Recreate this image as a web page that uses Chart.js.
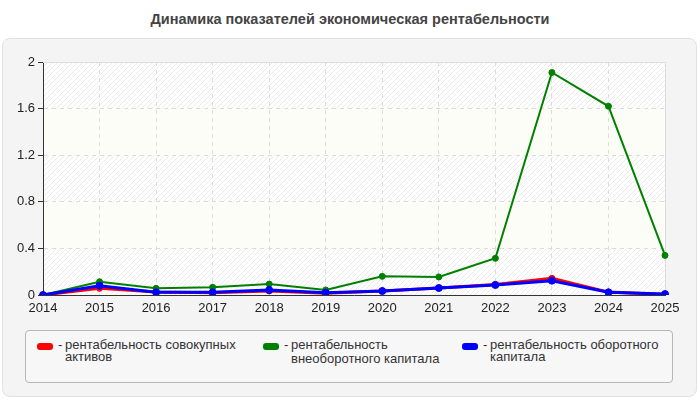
<!DOCTYPE html>
<html>
<head>
<meta charset="utf-8">
<script src="https://cdn.jsdelivr.net/npm/chart.js@4/dist/chart.umd.min.js"></script>
<style>
  html, body { margin: 0; padding: 0; background: #fff; width: 700px; height: 400px; overflow: hidden; font-family: "Liberation Sans", Arial, sans-serif; }
  #title { position: absolute; left: 0; top: 11px; width: 700px; text-align: center; font-weight: bold; font-size: 14.5px; color: #444; }
  #panel { position: absolute; left: 2px; top: 38px; width: 693px; height: 357px; background: #f4f4f4; border: 1px solid #e2e2e2; border-radius: 8px; }
  #wrap { position: absolute; left: 0; top: 40px; width: 700px; height: 280px; }
  #legend { position: absolute; left: 25px; top: 330px; width: 646px; height: 51px; border: 1px solid #b8b8b8; border-radius: 4px; background: #f7f7f7; }
  .sw { position: absolute; width: 16px; height: 7px; border-radius: 3px; }
  .lt { position: absolute; font-size: 13px; line-height: 12px; color: #333; white-space: nowrap; }
</style>
</head>
<body>
<div id="title">Динамика показателей экономическая рентабельности</div>
<div id="panel"></div>
<div id="wrap"><canvas id="c" width="700" height="280"></canvas></div>
<div id="legend"></div>
<script>
const years = ["2014","2015","2016","2017","2018","2019","2020","2021","2022","2023","2024","2025"];
const totalAssets = [0, 0.057, 0.025, 0.02, 0.035, 0.015, 0.035, 0.06, 0.09, 0.143, 0.025, 0.005];
const nonCurrent = [0, 0.114, 0.057, 0.066, 0.094, 0.043, 0.16, 0.155, 0.315, 1.91, 1.62, 0.34];
const current = [0, 0.08, 0.023, 0.023, 0.043, 0.02, 0.034, 0.06, 0.086, 0.123, 0.023, 0.008];
const yTicks = [0, 0.4, 0.8, 1.2, 1.6, 2];
const seriesNames = [
  ["рентабельность совокупных", "активов"],
  ["рентабельность", "внеоборотного капитала"],
  ["рентабельность оборотного", "капитала"]
];
const seriesColors = ["#ff0000", "#008000", "#0000ff"];

// legend (HTML text)
const legendPos = [
  {sx: 11, tx: 39, y2: 339 + 12},
  {sx: 237, tx: 265, y2: 339 + 14},
  {sx: 436, tx: 464, y2: 339 + 12}
];
const lg = document.getElementById('legend');
seriesNames.forEach((lines, i) => {
  const p = legendPos[i];
  const sw = document.createElement('div');
  sw.className = 'sw'; sw.style.background = seriesColors[i];
  sw.style.left = p.sx + 'px'; sw.style.top = (343 - 331) + 'px';
  lg.appendChild(sw);
  const d = document.createElement('div');
  d.className = 'lt'; d.textContent = '-';
  d.style.left = (p.tx - 7) + 'px'; d.style.top = (339 - 331) + 'px';
  lg.appendChild(d);
  const l1 = document.createElement('div');
  l1.className = 'lt'; l1.textContent = lines[0];
  l1.style.left = p.tx + 'px'; l1.style.top = (339 - 331) + 'px';
  lg.appendChild(l1);
  const l2 = document.createElement('div');
  l2.className = 'lt'; l2.textContent = lines[1];
  l2.style.left = p.tx + 'px'; l2.style.top = (p.y2 - 331) + 'px';
  lg.appendChild(l2);
});

// hatch pattern
function makeHatch() {
  const s = 5;
  const pc = document.createElement('canvas');
  pc.width = s; pc.height = s;
  const g = pc.getContext('2d');
  g.fillStyle = '#ffffff'; g.fillRect(0, 0, s, s);
  g.strokeStyle = '#ececec'; g.lineWidth = 1;
  g.beginPath();
  g.moveTo(-1, s + 1); g.lineTo(s + 1, -1);
  g.moveTo(-1, 1); g.lineTo(1, -1);
  g.moveTo(s - 1, s + 1); g.lineTo(s + 1, s - 1);
  g.stroke();
  return pc;
}

const bgPlugin = {
  id: 'bands',
  beforeDraw(chart) {
    const {ctx, chartArea: a, scales: {y}} = chart;
    const pat = ctx.createPattern(makeHatch(), 'repeat');
    ctx.save();
    for (let i = 0; i < yTicks.length - 1; i++) {
      const top = y.getPixelForValue(yTicks[i + 1]);
      const bot = y.getPixelForValue(yTicks[i]);
      ctx.fillStyle = (i % 2 === 0) ? pat : '#fcfdf6';
      ctx.fillRect(a.left, top, a.right - a.left, bot - top);
    }
    ctx.restore();
  },
  beforeDatasetsDraw(chart) {
    const {ctx, chartArea: a} = chart;
    ctx.save();
    ctx.strokeStyle = '#dcdcdc'; ctx.lineWidth = 1;
    ctx.beginPath();
    ctx.moveTo(a.left, Math.round(a.top) + 0.5);
    ctx.lineTo(Math.round(a.right) + 0.5, Math.round(a.top) + 0.5);
    ctx.lineTo(Math.round(a.right) + 0.5, a.bottom);
    ctx.stroke();
    ctx.restore();
  }
};

const font = {family: '"Liberation Sans", Arial, sans-serif', size: 13};
const lastIdx = (ctx, n) => ctx.index === 0 || ctx.index === n - 1;

new Chart(document.getElementById('c'), {
  type: 'line',
  data: {
    labels: years,
    datasets: [
      {data: totalAssets, borderColor: seriesColors[0], backgroundColor: seriesColors[0], borderWidth: 3, pointRadius: 3, pointBorderWidth: 1, pointHoverRadius: 3, order: 2},
      {data: nonCurrent, borderColor: seriesColors[1], backgroundColor: seriesColors[1], borderWidth: 2, pointRadius: 3, pointBorderWidth: 1, pointHoverRadius: 3, order: 1},
      {data: current, borderColor: seriesColors[2], backgroundColor: seriesColors[2], borderWidth: 3, pointRadius: 3.5, pointBorderWidth: 1, pointHoverRadius: 3.5, order: 0}
    ]
  },
  options: {
    responsive: false,
    animation: false,
    events: [],
    layout: {padding: {top: 22, right: 35, left: 0, bottom: 0}},
    plugins: {legend: {display: false}, tooltip: {enabled: false}, title: {display: false}},
    elements: {line: {tension: 0}},
    scales: {
      x: {
        afterFit(s) { s.height = 25; },
        grid: {color: (c) => lastIdx(c, years.length) ? 'rgba(0,0,0,0)' : '#dcdcdc', drawTicks: false},
        border: {color: '#333', width: 1, dash: [4, 4]},
        ticks: {color: '#222', font, padding: 6, maxRotation: 0, autoSkip: false}
      },
      y: {
        min: 0, max: 2,
        afterFit(s) { s.width = 43; },
        afterBuildTicks(s) { s.ticks = yTicks.map(v => ({value: v})); },
        grid: {color: (c) => lastIdx(c, yTicks.length) ? 'rgba(0,0,0,0)' : '#dcdcdc', tickColor: '#333', tickLength: 5, tickBorderDash: []},
        border: {color: '#333', width: 1, dash: [4, 4]},
        ticks: {color: '#222', font, padding: 3, callback: (v) => String(v)}
      }
    }
  },
  plugins: [bgPlugin]
});
</script>
</body>
</html>
